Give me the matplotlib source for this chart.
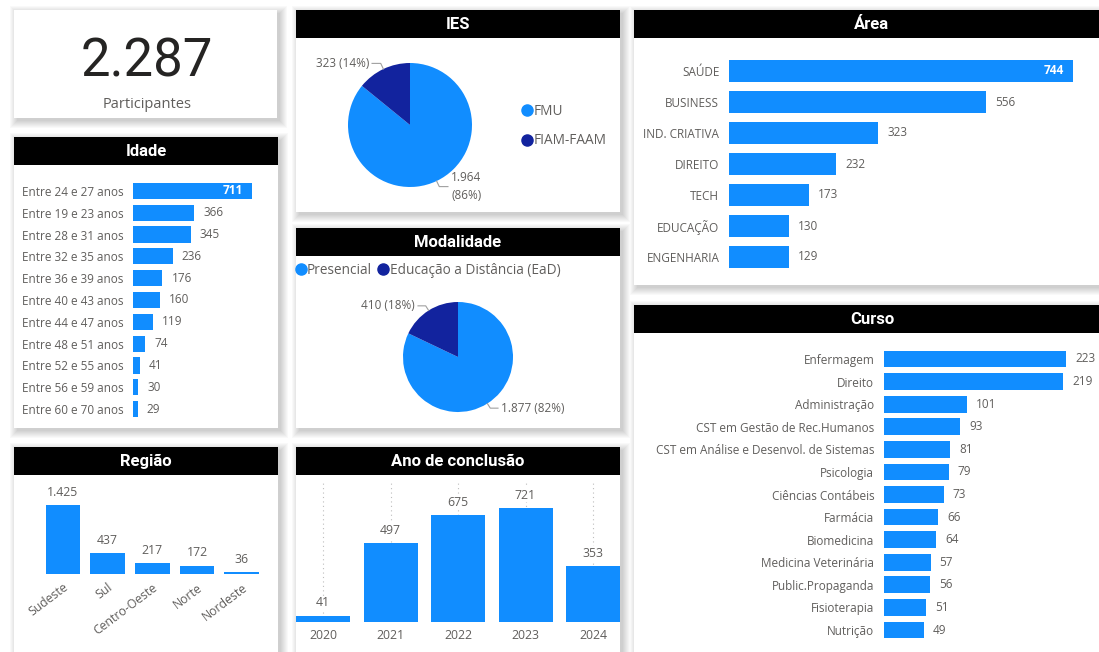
import matplotlib
matplotlib.use('Agg')
import matplotlib.pyplot as plt
from matplotlib.patches import Rectangle
from matplotlib.lines import Line2D
import numpy as np

W, H = 1099, 652
DPI = 100

BLUE = '#118DFF'
NAVY = '#12239E'
GRAY = '#605E5C'
PAGE = '#FFFFFF'
FONT = 'Open Sans'
TFONT = 'Roboto'

# ---------------- data ----------------
kpi_value = 2287
kpi_label = 'Participantes'

idade_labels = ['Entre 24 e 27 anos', 'Entre 19 e 23 anos', 'Entre 28 e 31 anos',
                'Entre 32 e 35 anos', 'Entre 36 e 39 anos', 'Entre 40 e 43 anos',
                'Entre 44 e 47 anos', 'Entre 48 e 51 anos', 'Entre 52 e 55 anos',
                'Entre 56 e 59 anos', 'Entre 60 e 70 anos']
idade_values = [711, 366, 345, 236, 176, 160, 119, 74, 41, 30, 29]

regiao_labels = ['Sudeste', 'Sul', 'Centro-Oeste', 'Norte', 'Nordeste']
regiao_values = [1425, 437, 217, 172, 36]

ies_labels = ['FMU', 'FIAM-FAAM']
ies_values = [1964, 323]

mod_labels = ['Presencial', 'Educação a Distância (EaD)']
mod_values = [1877, 410]

ano_labels = ['2020', '2021', '2022', '2023', '2024']
ano_values = [41, 497, 675, 721, 353]

area_labels = ['SAÚDE', 'BUSINESS', 'IND. CRIATIVA', 'DIREITO', 'TECH', 'EDUCAÇÃO', 'ENGENHARIA']
area_values = [744, 556, 323, 232, 173, 130, 129]

curso_labels = ['Enfermagem', 'Direito', 'Administração', 'CST em Gestão de Rec.Humanos',
                'CST em Análise e Desenvol. de Sistemas', 'Psicologia', 'Ciências Contábeis',
                'Farmácia', 'Biomedicina', 'Medicina Veterinária', 'Public.Propaganda',
                'Fisioterapia', 'Nutrição']
curso_values = [223, 219, 101, 93, 81, 79, 73, 66, 64, 57, 56, 51, 49]


def br(v):
    return f"{v:,}".replace(',', '.')


fig = plt.figure(figsize=(W / DPI, H / DPI), dpi=DPI, facecolor=PAGE)

bg = fig.add_axes([0, 0, 1, 1], zorder=0)
bg.set_xlim(0, W)
bg.set_ylim(H, 0)
bg.axis('off')


def add_px(x0, y0, x1, y1, **kw):
    ax = fig.add_axes([x0 / W, 1 - y1 / H, (x1 - x0) / W, (y1 - y0) / H], zorder=2, **kw)
    ax.patch.set_alpha(0)
    return ax


def card(x0, y0, x1, y1, title=None, header=28):
    # soft blurred shadow, offset to bottom-right
    for k in range(8, 0, -1):
        bg.add_patch(Rectangle((x0 - k + 4, y0 - k + 4), x1 - x0 + 2 * k - 2, y1 - y0 + 2 * k - 2,
                               facecolor='black', alpha=0.022, edgecolor='none', zorder=1))
    bg.add_patch(Rectangle((x0, y0), x1 - x0, y1 - y0, facecolor='white',
                           edgecolor='none', zorder=2))
    if title:
        bg.add_patch(Rectangle((x0, y0), x1 - x0, header, facecolor='black',
                               edgecolor='none', zorder=3))
        bg.text((x0 + x1) / 2, y0 + header / 2 + 0.5, title, color='white',
                fontsize=12, fontweight='bold', family=TFONT,
                ha='center', va='center', zorder=4)


# cards
card(14, 10, 277, 118)
card(14, 137, 278, 428, 'Idade')
card(14, 447, 278, 656, 'Região')
card(296, 10, 620, 212, 'IES')
card(296, 228, 620, 428, 'Modalidade')
card(296, 447, 620, 656, 'Ano de conclusão')
card(634, 10, 1110, 285, 'Área')
card(634, 305, 1110, 660, 'Curso')

# KPI
bg.text(147, 62, br(kpi_value), fontsize=38, family=TFONT, color='#252423',
        ha='center', va='center', zorder=5)
bg.text(147, 104, kpi_label, fontsize=10.5, family=FONT, color=GRAY,
        ha='center', va='center', zorder=5)


def hbar(rect, labels, values, xmax, inside_first=True, fs=8.5):
    ax = add_px(*rect)
    y = np.arange(len(values))
    ax.barh(y, values, height=0.74, color=BLUE)
    ax.set_ylim(len(values) - 0.5, -0.5)
    ax.set_xlim(0, xmax)
    ax.set_yticks(y, labels)
    ax.tick_params(axis='y', length=0, pad=7, labelsize=fs, labelcolor=GRAY)
    for t in ax.get_yticklabels():
        t.set_family(FONT)
    ax.set_xticks([])
    for s in ax.spines.values():
        s.set_visible(False)
    for i, v in enumerate(values):
        if i == 0 and inside_first:
            ax.annotate(br(v), (v, i), xytext=(-6.5, 0), textcoords='offset points',
                        ha='right', va='center', color='white', fontsize=fs,
                        family=FONT, fontweight='bold')
        else:
            ax.annotate(br(v), (v, i), xytext=(6.5, 0), textcoords='offset points',
                        ha='left', va='center', color=GRAY, fontsize=fs, family=FONT)
    return ax


hbar((133, 180, 270, 420), idade_labels, idade_values, 818)
hbar((729, 55.5, 1099, 272.5), area_labels, area_values, 800)
hbar((884, 347.7, 1099, 641.3), curso_labels, curso_values, 263, inside_first=False)


def vbar(rect, labels, values, xlim, ymax, width, rot=0, grid=False):
    ax = add_px(*rect)
    x = np.arange(len(values))
    ax.bar(x, values, width=width, color=BLUE, zorder=2)
    ax.set_xlim(*xlim)
    ax.set_ylim(0, ymax)
    ax.set_yticks([])
    ax.set_xticks(x, labels)
    if rot:
        ax.tick_params(axis='x', length=0, pad=5, labelsize=8.8, labelcolor=GRAY)
        for t in ax.get_xticklabels():
            t.set_rotation(rot)
            t.set_ha('right')
            t.set_rotation_mode('anchor')
            t.set_family(FONT)
    else:
        ax.tick_params(axis='x', length=0, pad=5, labelsize=8.8, labelcolor=GRAY)
        for t in ax.get_xticklabels():
            t.set_family(FONT)
    for s in ax.spines.values():
        s.set_visible(False)
    if grid:
        ax.grid(axis='x', linestyle=(0, (1, 3)), color='#BDBDBD', linewidth=0.8, zorder=0)
        ax.set_axisbelow(True)
    for i, v in enumerate(values):
        ax.annotate(br(v), (i, v), xytext=(0, 4.5), textcoords='offset points',
                    ha='center', va='bottom', color=GRAY, fontsize=8.8, family=FONT,
                    bbox=dict(facecolor='white', edgecolor='none', pad=0.5) if grid else None)
    return ax


vbar((40.6, 480, 264, 574), regiao_labels, regiao_values, (-0.5, 4.5), 1941, 0.77, rot=37)
vbar((296, 482, 620, 622), ano_labels, ano_values, (-0.4, 4.4), 885, 0.8, grid=True)


def pie(cx, cy, r, labels, values, label_side):
    ax = add_px(cx - r, cy - r, cx + r, cy + r)
    wedges, _ = ax.pie(values, colors=[BLUE, NAVY], startangle=90, counterclock=False,
                       radius=1, wedgeprops=dict(linewidth=0))
    ax.set_xlim(-1, 1)
    ax.set_ylim(-1, 1)
    ax.set_aspect('equal')
    total = sum(values)
    for w, v, mode in zip(wedges, values, label_side):
        th = np.deg2rad((w.theta1 + w.theta2) / 2)
        c, s = np.cos(th), np.sin(th)
        p1 = (c * 1.0, s * 1.0)
        p2 = (c * 1.1, s * 1.1)
        sgn = 1 if c > 0 else -1
        p3 = (p2[0] + sgn * 0.14, p2[1])
        ax.plot([p1[0], p2[0], p3[0]], [p1[1], p2[1], p3[1]], color='#A0A0A0',
                lw=0.8, clip_on=False)
        pct = round(100 * v / total)
        txt = f"{br(v)}\n({pct}%)" if mode == 'two' else f"{br(v)} ({pct}%)"
        ax.text(p3[0] + sgn * 0.05, p3[1], txt, ha='left' if sgn > 0 else 'right',
                va='center', color=GRAY, fontsize=8.5, family=FONT,
                linespacing=1.45, clip_on=False)
    return ax


pie(410, 125, 62, ies_labels, ies_values, ['two', 'one'])
pie(458, 357, 55, mod_labels, mod_values, ['one', 'one'])

# legends
ies_handles = [Line2D([], [], marker='o', linestyle='none', color=c, markersize=8)
               for c in [BLUE, NAVY]]
fig.legend(ies_handles, ies_labels, loc='upper left',
           bbox_to_anchor=(522 / W, 1 - 104 / H), frameon=False, handlelength=0.7,
           handletextpad=0.15, labelspacing=1.05, borderaxespad=0, borderpad=0,
           prop=dict(family=FONT, size=9.8), labelcolor=GRAY)
mod_handles = [Line2D([], [], marker='o', linestyle='none', color=c, markersize=8)
               for c in [BLUE, NAVY]]
fig.legend(mod_handles, mod_labels, loc='upper left', ncol=2,
           bbox_to_anchor=(296 / W, 1 - 263 / H), frameon=False, handlelength=0.7,
           handletextpad=0.1, columnspacing=0.5, borderaxespad=0, borderpad=0,
           prop=dict(family=FONT, size=9.8), labelcolor=GRAY)

fig.savefig('out.png', dpi=DPI, facecolor=PAGE)
